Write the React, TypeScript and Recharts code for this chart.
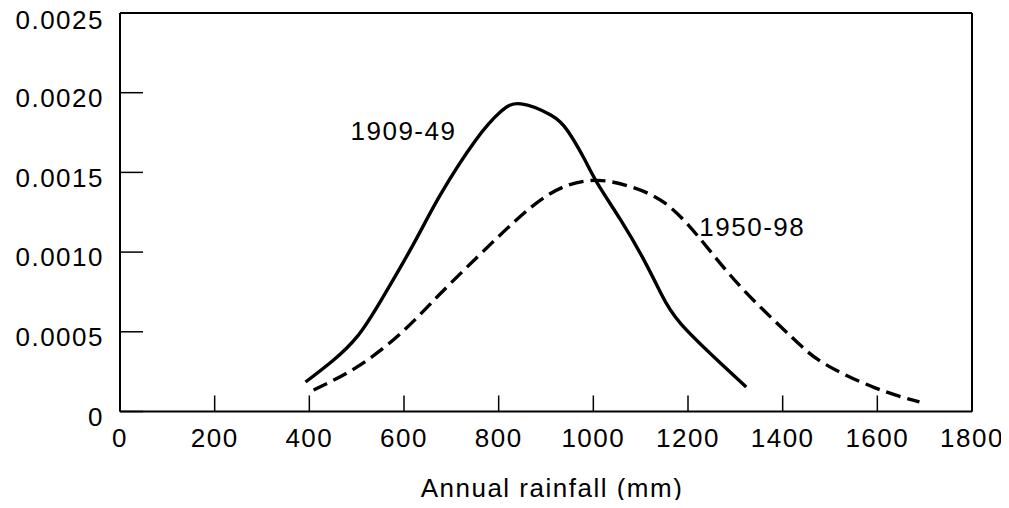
import { LineChart, Line, XAxis, YAxis, ReferenceDot } from 'recharts';

// Rainfall distribution, two periods
const rain1909 = [392, 450, 501, 550, 620, 677, 751, 804, 847, 910, 946, 980, 1009, 1058, 1107, 1143, 1185, 1270, 1323];
const dens1909 = [0.000185, 0.00032, 0.00047, 0.00069, 0.00105, 0.00136, 0.0017, 0.00188, 0.00193, 0.00186, 0.00176, 0.00159, 0.00143, 0.0012, 0.00095, 0.00074, 0.00055, 0.0003, 0.000154];

const rain1950 = [409, 501, 593, 677, 783, 868, 938, 1009, 1079, 1150, 1221, 1312, 1418, 1488, 1594, 1689];
const dens1950 = [0.000135, 0.00028, 0.00049, 0.00074, 0.00105, 0.00128, 0.00141, 0.00145, 0.00141, 0.00131, 0.0011, 0.00078, 0.00047, 0.0003, 0.00015, 0.00006];

const xTicks = [0, 200, 400, 600, 800, 1000, 1200, 1400, 1600, 1800];
const yTicks = [0, 0.0005, 0.001, 0.0015, 0.002, 0.0025];

// label anchors (data coords)
const label1909 = { x: 487, y: 0.00176, text: '1909-49' };
const label1950 = { x: 1224, y: 0.00116, text: '1950-98' };

const FONT = '"Liberation Sans", Arial, Helvetica, sans-serif';
const FS = 26;

const toSeries = (xs: number[], ys: number[]) => xs.map((x, i) => ({ x, y: ys[i] }));

export default function App() {
  const data1909 = toSeries(rain1909, dens1909);
  const data1950 = toSeries(rain1950, dens1950);
  const fmtY = (v: number) => (v === 0 ? '0' : v.toFixed(4));

  return (
    <div style={{ margin: -8, width: 1009, height: 508, background: '#fff', fontFamily: FONT, letterSpacing: 1.5 }}>
      <LineChart width={1009} height={508} margin={{ top: 12, right: 36, left: 0, bottom: 0 }}>
        <XAxis
          xAxisId="bottom"
          dataKey="x"
          type="number"
          domain={[0, 1800]}
          ticks={xTicks}
          allowDataOverflow
          height={96.5}
          stroke="#000"
          axisLine={{ strokeWidth: 2 }}
          tickLine={{ strokeWidth: 1.5 }}
          tickSize={-16}
          tickMargin={33}
          tick={{ fill: '#000', fontSize: FS, fontFamily: FONT }}
          label={{ value: 'Annual rainfall (mm)', position: 'insideBottom', offset: 11, dx: 6, fill: '#000', fontSize: FS, fontFamily: FONT }}
        />
        <XAxis
          xAxisId="top"
          orientation="top"
          dataKey="x"
          type="number"
          domain={[0, 1800]}
          ticks={xTicks}
          height={1}
          stroke="#000"
          axisLine={{ strokeWidth: 2 }}
          tickLine={{ strokeWidth: 1.5 }}
          tickSize={-16}
          tick={false}
        />
        <YAxis
          yAxisId="left"
          type="number"
          domain={[0, 0.0025]}
          ticks={yTicks}
          width={120}
          stroke="#000"
          axisLine={{ strokeWidth: 2 }}
          tickLine={{ strokeWidth: 1.5 }}
          tickSize={-23}
          tickMargin={39}
          tickFormatter={fmtY}
          tick={{ fill: '#000', fontSize: FS, fontFamily: FONT, dy: 5 }}
        />
        <YAxis
          yAxisId="right"
          orientation="right"
          type="number"
          domain={[0, 0.0025]}
          ticks={yTicks}
          width={1}
          stroke="#000"
          axisLine={{ strokeWidth: 2 }}
          tickLine={{ strokeWidth: 1.5 }}
          tickSize={-23}
          tick={false}
        />
        <Line
          xAxisId="bottom"
          yAxisId="left"
          data={data1909}
          dataKey="y"
          type="natural"
          stroke="#000"
          strokeWidth={3.4}
          dot={false}
          isAnimationActive={false}
        />
        <Line
          xAxisId="bottom"
          yAxisId="left"
          data={data1950}
          dataKey="y"
          type="natural"
          stroke="#000"
          strokeWidth={3.4}
          strokeDasharray="15 7"
          dot={false}
          isAnimationActive={false}
        />
        <ReferenceDot
          xAxisId="bottom"
          yAxisId="left"
          x={label1909.x}
          y={label1909.y}
          r={0}
          stroke="none"
          label={{ value: label1909.text, position: 'right', offset: 0, fill: '#000', fontSize: FS, fontFamily: FONT }}
        />
        <ReferenceDot
          xAxisId="bottom"
          yAxisId="left"
          x={label1950.x}
          y={label1950.y}
          r={0}
          stroke="none"
          label={{ value: label1950.text, position: 'right', offset: 0, fill: '#000', fontSize: FS, fontFamily: FONT }}
        />
      </LineChart>
    </div>
  );
}
